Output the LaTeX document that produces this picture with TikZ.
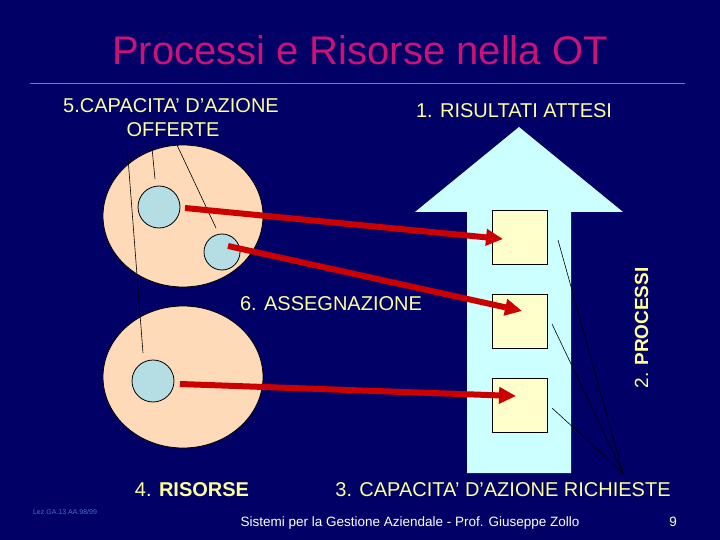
\documentclass[tikz,border=0pt]{standalone}
\usepackage{fontspec}
\setmainfont{Liberation Sans}
\usetikzlibrary{arrows.meta,shapes.geometric}
\definecolor{bg}{HTML}{000066}
\definecolor{titlecol}{HTML}{CC1177}
\definecolor{rulecol}{HTML}{3399CC}
\definecolor{lblyellow}{HTML}{FFFF99}
\definecolor{peach}{HTML}{FFDAB9}
\definecolor{smallblue}{HTML}{B4DEE4}
\definecolor{bigcyan}{HTML}{CCFFFF}
\definecolor{sqyellow}{HTML}{FFFFCC}
\definecolor{arrowred}{HTML}{CC0000}
\definecolor{lezcol}{HTML}{4A72B8}
\begin{document}
\begin{tikzpicture}[x=1pt,y=-1pt,
  lbl/.style={text=lblyellow, font=\fontsize{20}{24}\selectfont, inner sep=0pt, anchor=base},
  thinline/.style={draw=black, line width=0.6pt},
  redarrow/.style={draw=arrowred, line width=6pt, -{Triangle[length=17pt,width=16pt]}},
  bigell/.style={ellipse, draw=black, line width=0.8pt, fill=peach, minimum width=160pt, minimum height=142pt, inner sep=0pt},
  smallc/.style={circle, draw=black, line width=0.8pt, fill=smallblue, inner sep=0pt},
  sqbox/.style={rectangle, draw=black, line width=0.8pt, fill=sqyellow, minimum width=55pt, minimum height=54pt, inner sep=0pt}]
\fill[bg] (0,0) rectangle (720,540);
\useasboundingbox (0,0) rectangle (720,540);
% title
\node[text=titlecol, font=\fontsize{40}{44}\selectfont, anchor=base, inner sep=0pt] (title) at (360,65) {Processi e Risorse nella OT};
\draw[rulecol, line width=1pt] (30,84) -- (685,84);
% resource ellipses
\node[bigell] (e1) at (183,216) {};
\node[bigell] (e2) at (183,377) {};
\node[smallc, minimum size=42pt] (c1) at (159,207) {};
\node[smallc, minimum size=36pt] (c2) at (222,252) {};
\node[smallc, minimum size=42pt] (c3) at (153,381) {};
% big process arrow
\path[fill=bigcyan] (519,127) -- (623,212) -- (571,212) -- (571,473) -- (467,473) -- (467,212) -- (415,212) -- cycle;
\node[sqbox] (s1) at (519.5,237) {};
\node[sqbox] (s2) at (519.5,321) {};
\node[sqbox] (s3) at (519.5,405) {};
% labels
\node[lbl] (l5a) at (171,113) {5.CAPACITA’ D’AZIONE};
\node[lbl] (l5b) at (173,137) {OFFERTE};
\node[lbl] (l1) at (514,118) {1. RISULTATI ATTESI};
\node[lbl] (l6) at (331,310) {6. ASSEGNAZIONE};
\node[lbl, font=\fontsize{19}{22}\selectfont, rotate=90] (l2) at (648,328) {2. \textbf{PROCESSI}};
\node[lbl] (l4) at (192,496) {4. \textbf{RISORSE}};
\node[lbl] (l3) at (503,496) {3. CAPACITA’ D’AZIONE RICHIESTE};
\node[text=white, font=\fontsize{13.5}{16}\selectfont, anchor=base, inner sep=0pt] (foot) at (410,526) {Sistemi per la Gestione Aziendale - Prof. Giuseppe Zollo};
\node[text=white, font=\fontsize{13.5}{16}\selectfont, anchor=base, inner sep=0pt] (pg) at (673,526) {9};
\node[text=lezcol, font=\fontsize{7}{8}\selectfont, anchor=base, inner sep=0pt] (lez) at (65,514) {Lez.GA.13 AA.98/99};
% pointer lines from label 5
\coordinate (p1a) at (127,145); \coordinate (p1b) at (143,353);
\coordinate (p2a) at (152,148); \coordinate (p2b) at (155,179);
\coordinate (p3a) at (177,145); \coordinate (p3b) at (216,228);
\draw[thinline] (p1a) -- (p1b);
\draw[thinline] (p2a) -- (p2b);
\draw[thinline] (p3a) -- (p3b);
% pointer lines from label 3
\coordinate (q0) at (623,473);
\coordinate (q1) at (558,240);
\coordinate (q2) at (552,324);
\coordinate (q3) at (552,408);
\draw[thinline] (q1) -- (q0);
\draw[thinline] (q2) -- (q0);
\draw[thinline] (q3) -- (q0);
% assignment arrows
\coordinate (a1s) at (185,208); \coordinate (a1e) at (503,239);
\coordinate (a2s) at (228,246); \coordinate (a2e) at (522,311);
\coordinate (a3s) at (180,384); \coordinate (a3e) at (516,396);
\draw[redarrow] (a1s) -- (a1e);
\draw[redarrow] (a2s) -- (a2e);
\draw[redarrow] (a3s) -- (a3e);
\end{tikzpicture}
\end{document}
